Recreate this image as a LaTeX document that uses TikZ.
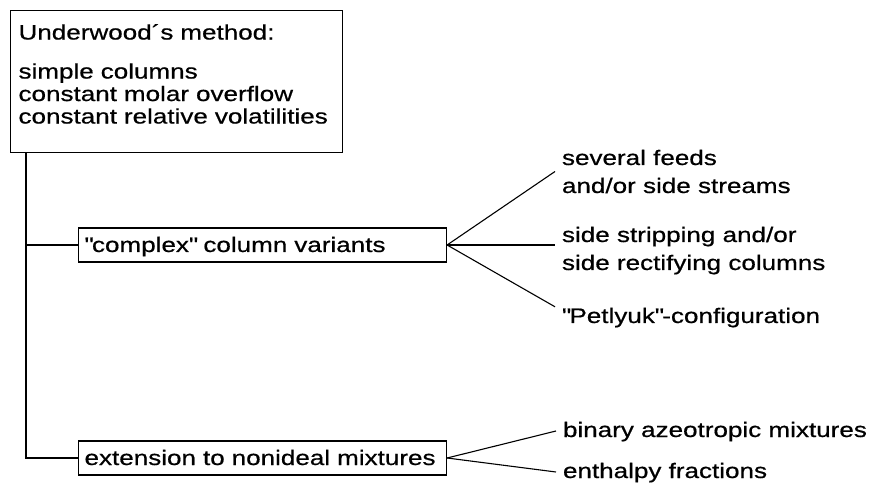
\documentclass[tikz,border=0pt]{standalone}
\usepackage{fontspec}
\setmainfont[FakeStretch=1.24, FakeBold=0.6]{Liberation Sans}
\usetikzlibrary{positioning}
\tikzset{
  basic/.style   = {draw, line width=1.1pt, rectangle, font=\fontsize{21}{22.5}\selectfont, inner ysep=0pt},
  root/.style    = {basic, align=left, text width=316pt, inner xsep=8pt, text height=29pt, text depth=113pt},
  level-2/.style = {basic, align=left, text width=356pt, inner xsep=6pt, minimum height=34pt, text height=16pt, text depth=2pt},
  leaf/.style    = {font=\fontsize{21}{28}\selectfont, align=left, inner ysep=0pt, inner xsep=0pt, outer xsep=7pt, anchor=base west},
  single/.style  = {leaf, text height=16pt, text depth=4pt}
}

\begin{document}
\begin{tikzpicture}[
		x=1pt, y=-1pt,
		connector/.style={draw, line width=1.1pt}
	]
		\useasboundingbox (0,0) rectangle (873,486);
		\node[root, anchor=north west] (underwood) at (10,10)
			{Underwood´s method:\\[16.5pt]simple columns\\constant molar overflow\\constant relative volatilities};
		\node[level-2, anchor=west] (complex) at (78,245) {\textquotedbl complex\textquotedbl{} column variants};
		\node[level-2, anchor=west] (nonideal) at (78,458) {extension to nonideal mixtures};
		\node[leaf] (feeds) at (555,193) {several feeds\\and/or side streams};
		\node[leaf] (side) at (555,270) {side stripping and/or\\side rectifying columns};
		\node[single] (petlyuk) at (555,323) {\textquotedbl Petlyuk\textquotedbl -configuration};
		\node[single] (azeo) at (556,437) {binary azeotropic mixtures};
		\node[single] (enthalpy) at (556,478) {enthalpy fractions};
		\coordinate (trunk) at ([xshift=16pt]underwood.south west);
		\path[connector] (trunk) |- (nonideal.west);
		\path[connector] (trunk |- complex.west) -- (complex.west);
		\path[connector] (complex.east) -- (feeds.west);
		\path[connector] (complex.east) -- (side.west |- complex.east);
		\path[connector] (complex.east) -- (petlyuk.north west);
		\foreach \target in {azeo, enthalpy}
			\path[connector] (nonideal.east) -- (\target.west);
	\end{tikzpicture}
\end{document}
